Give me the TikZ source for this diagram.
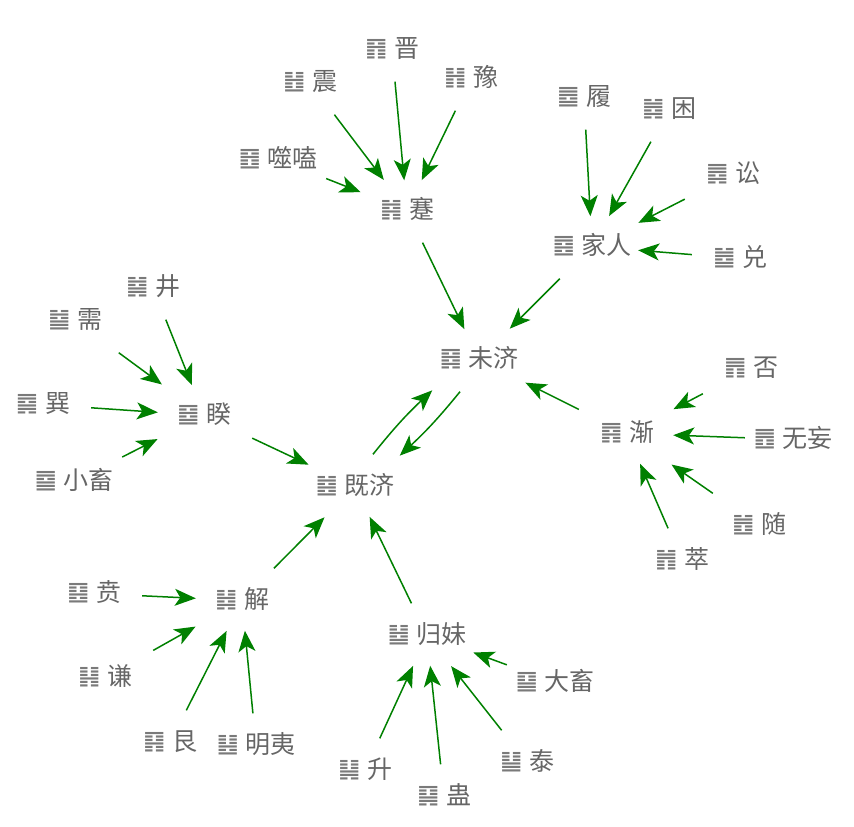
\documentclass[tikz,border=0pt]{standalone}
\usepackage{fontspec}
\setmainfont{Noto Sans CJK SC}
\newfontfamily\hexfont{DejaVu Sans}
\usetikzlibrary{arrows.meta}
\newcommand{\gua}[2]{\raisebox{-8pt}[0pt][0pt]{\makebox[29pt][l]{\raisebox{2.5pt}{\scalebox{1}[0.88]{\hexfont\color{black!52}#1}}}#2}}
\tikzset{
  hexnode/.style={text=black!60, font=\fontsize{25}{28}\selectfont, minimum width=96pt, minimum height=64pt, inner sep=0pt},
  flow/.style={draw=green!50!black, line width=1.5pt, shorten >=-2pt, -{Stealth[length=21pt, width=17pt, inset=5.5pt]}}
}
\begin{document}
\begin{tikzpicture}[x=1pt,y=-1pt]
      \useasboundingbox (0,0) rectangle (854,827);
      \node[hexnode] (jin) at (392,49.5) {\gua{䷢}{晋}};
      \node[hexnode] (yu) at (471,78.5) {\gua{䷏}{豫}};
      \node[hexnode] (zhen) at (310,82.5) {\gua{䷲}{震}};
      \node[hexnode] (shihe) at (278,159.5) {\gua{䷔}{噬嗑}};
      \node[hexnode] (jian) at (407,210.5) {\gua{䷦}{蹇}};
      \node[hexnode] (lv) at (584,97.5) {\gua{䷉}{履}};
      \node[hexnode] (kun) at (669,109.5) {\gua{䷮}{困}};
      \node[hexnode] (song) at (733,174.5) {\gua{䷅}{讼}};
      \node[hexnode] (dui) at (740,258.5) {\gua{䷹}{兑}};
      \node[hexnode] (jiaren) at (592,246.5) {\gua{䷤}{家人}};
      \node[hexnode] (weiji) at (479,359.5) {\gua{䷿}{未济}};
      \node[hexnode] (pi) at (751,368.5) {\gua{䷋}{否}};
      \node[hexnode] (jian2) at (627,433.5) {\gua{䷴}{渐}};
      \node[hexnode] (wuwang) at (793,439.5) {\gua{䷘}{无妄}};
      \node[hexnode] (sui) at (759,525.5) {\gua{䷐}{随}};
      \node[hexnode] (cui) at (682,560.5) {\gua{䷬}{萃}};
      \node[hexnode] (jiji) at (355,486.5) {\gua{䷾}{既济}};
      \node[hexnode] (kui) at (204,415.5) {\gua{䷥}{睽}};
      \node[hexnode] (jing) at (153,287.5) {\gua{䷯}{井}};
      \node[hexnode] (xu) at (75,320.5) {\gua{䷄}{需}};
      \node[hexnode] (xun) at (43,404.5) {\gua{䷸}{巽}};
      \node[hexnode] (xiaoxu) at (74,481.5) {\gua{䷈}{小畜}};
      \node[hexnode] (xie) at (242,600.5) {\gua{䷧}{解}};
      \node[hexnode] (bi) at (94,593.5) {\gua{䷕}{贲}};
      \node[hexnode] (qian) at (105,677.5) {\gua{䷎}{谦}};
      \node[hexnode] (gen) at (170,742.5) {\gua{䷳}{艮}};
      \node[hexnode] (mingyi) at (256,745.5) {\gua{䷣}{明夷}};
      \node[hexnode] (guimei) at (427,635.5) {\gua{䷵}{归妹}};
      \node[hexnode] (daxu) at (555,682.5) {\gua{䷙}{大畜}};
      \node[hexnode] (tai) at (527,762.5) {\gua{䷊}{泰}};
      \node[hexnode] (gu) at (444,796.5) {\gua{䷑}{蛊}};
      \node[hexnode] (sheng) at (365,770.5) {\gua{䷭}{升}};
      \draw[flow] (jin) to (jian);
      \draw[flow] (yu) to (jian);
      \draw[flow] (zhen) to (jian);
      \draw[flow] (shihe) to (jian);
      \draw[flow] (jian) to (weiji);
      \draw[flow] (lv) to (jiaren);
      \draw[flow] (kun) to (jiaren);
      \draw[flow] (song) to (jiaren);
      \draw[flow] (dui) to (jiaren);
      \draw[flow] (jiaren) to (weiji);
      \draw[flow] (pi) to (jian2);
      \draw[flow] (wuwang) to (jian2);
      \draw[flow] (sui) to (jian2);
      \draw[flow] (cui) to (jian2);
      \draw[flow] (jian2) to (weiji);
      \draw[flow] ([xshift=-19pt]weiji.south) to[bend left=4] ([xshift=-2pt]jiji.north east);
      \draw[flow] ([xshift=18pt]jiji.north) to[bend left=4] (weiji.south west);
      \draw[flow] (kui) to (jiji);
      \draw[flow] (jing) to (kui);
      \draw[flow] (xu) to (kui);
      \draw[flow] (xun) to (kui);
      \draw[flow] (xiaoxu) to (kui);
      \draw[flow] (xie) to (jiji);
      \draw[flow] (bi) to (xie);
      \draw[flow] (qian) to (xie);
      \draw[flow] (gen) to (xie);
      \draw[flow] (mingyi) to (xie);
      \draw[flow] (guimei) to (jiji);
      \draw[flow] (daxu) to (guimei);
      \draw[flow] (tai) to (guimei);
      \draw[flow] (gu) to (guimei);
      \draw[flow] (sheng) to (guimei);
    \end{tikzpicture}
\end{document}
